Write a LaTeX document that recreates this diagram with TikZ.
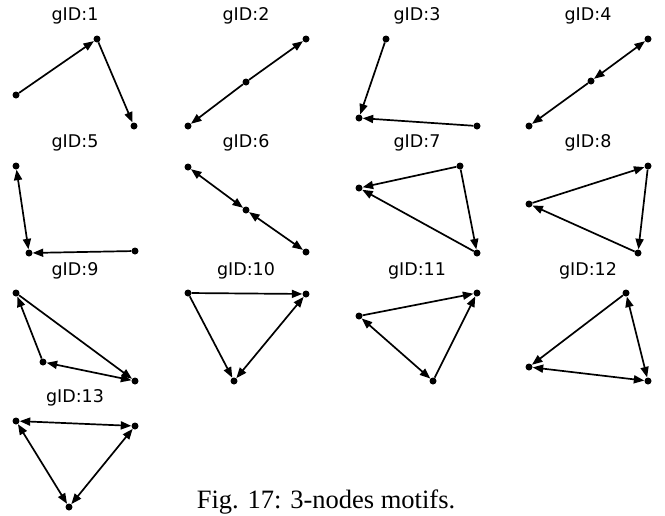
\documentclass[tikz,border=0pt]{standalone}
\usepackage{fontspec}
\setmainfont{Liberation Serif}
\newfontfamily\labfont{DejaVu Sans}
\usetikzlibrary{arrows.meta}
\tikzset{
  dot/.style={circle,fill=black,inner sep=0pt,minimum size=7pt},
  arr/.style={line width=1.7pt,-{Triangle[length=10.5pt,width=8pt]}},
  darr/.style={line width=1.7pt,{Triangle[length=10.5pt,width=8pt]}-{Triangle[length=10.5pt,width=8pt]}},
  title/.style={anchor=base,inner sep=0pt,font=\labfont\fontsize{17.5}{20}\selectfont},
  caption/.style={anchor=base,inner sep=0pt,font=\fontsize{26.5}{30}\selectfont}
}
\begin{document}
\begin{tikzpicture}[x=1pt,y=-1pt]
\useasboundingbox (0,0) rectangle (665,515);
% titles
\node[title] (t1) at (75,20) {gID:1};
\node[title] (t2) at (246,20) {gID:2};
\node[title] (t3) at (417,20) {gID:3};
\node[title] (t4) at (588,20) {gID:4};
\node[title] (t5) at (75,147) {gID:5};
\node[title] (t6) at (246,147) {gID:6};
\node[title] (t7) at (417,147) {gID:7};
\node[title] (t8) at (588,147) {gID:8};
\node[title] (t9) at (75,275) {gID:9};
\node[title] (t10) at (246,275) {gID:10};
\node[title] (t11) at (417,275) {gID:11};
\node[title] (t12) at (588,275) {gID:12};
\node[title] (t13) at (75,402) {gID:13};
% G1
\node[dot] (g1a) at (16,95) {};
\node[dot] (g1b) at (97,39) {};
\node[dot] (g1c) at (134,126) {};
\draw[arr] (g1a) -- (g1b);
\draw[arr] (g1b) -- (g1c);
% G2
\node[dot] (g2a) at (188,126) {};
\node[dot] (g2b) at (246,82) {};
\node[dot] (g2c) at (306,39) {};
\draw[arr] (g2b) -- (g2c);
\draw[arr] (g2b) -- (g2a);
% G3
\node[dot] (g3a) at (386,39) {};
\node[dot] (g3b) at (359,118) {};
\node[dot] (g3c) at (477,126) {};
\draw[arr] (g3a) -- (g3b);
\draw[arr] (g3c) -- (g3b);
% G4
\node[dot] (g4a) at (648,39) {};
\node[dot] (g4b) at (591,81) {};
\node[dot] (g4c) at (529,126) {};
\draw[darr] (g4a) -- (g4b);
\draw[arr] (g4b) -- (g4c);
% G5
\node[dot] (g5a) at (16,166) {};
\node[dot] (g5b) at (29,253) {};
\node[dot] (g5c) at (135,251) {};
\draw[darr] (g5a) -- (g5b);
\draw[arr] (g5c) -- (g5b);
% G6
\node[dot] (g6a) at (188,167) {};
\node[dot] (g6b) at (246,210) {};
\node[dot] (g6c) at (306,252) {};
\draw[darr] (g6a) -- (g6b);
\draw[darr] (g6b) -- (g6c);
% G7
\node[dot] (g7a) at (460,166) {};
\node[dot] (g7b) at (359,188) {};
\node[dot] (g7c) at (477,253) {};
\draw[arr] (g7a) -- (g7b);
\draw[arr] (g7c) -- (g7b);
\draw[arr] (g7a) -- (g7c);
% G8
\node[dot] (g8a) at (648,166) {};
\node[dot] (g8b) at (529,204) {};
\node[dot] (g8c) at (638,253) {};
\draw[arr] (g8b) -- (g8a);
\draw[arr] (g8a) -- (g8c);
\draw[arr] (g8c) -- (g8b);
% G9
\node[dot] (g9a) at (16,293) {};
\node[dot] (g9b) at (43,362) {};
\node[dot] (g9c) at (135,381) {};
\draw[arr] (g9b) -- (g9a);
\draw[arr] (g9a) -- (g9c);
\draw[darr] (g9b) -- (g9c);
% G10
\node[dot] (g10a) at (188,293) {};
\node[dot] (g10b) at (306,294) {};
\node[dot] (g10c) at (234,381) {};
\draw[arr] (g10a) -- (g10b);
\draw[arr] (g10a) -- (g10c);
\draw[darr] (g10c) -- (g10b);
% G11
\node[dot] (g11a) at (477,293) {};
\node[dot] (g11b) at (359,316) {};
\node[dot] (g11c) at (433,381) {};
\draw[arr] (g11b) -- (g11a);
\draw[arr] (g11c) -- (g11a);
\draw[darr] (g11b) -- (g11c);
% G12
\node[dot] (g12a) at (626,293) {};
\node[dot] (g12b) at (529,367) {};
\node[dot] (g12c) at (648,381) {};
\draw[arr] (g12a) -- (g12b);
\draw[darr] (g12a) -- (g12c);
\draw[darr] (g12b) -- (g12c);
% G13
\node[dot] (g13a) at (16,421) {};
\node[dot] (g13b) at (135,426) {};
\node[dot] (g13c) at (69,507) {};
\draw[darr] (g13a) -- (g13b);
\draw[darr] (g13a) -- (g13c);
\draw[darr] (g13b) -- (g13c);
% caption
\node[caption] (cap) at (326,508.5) {Fig. 17: 3-nodes motifs.};
\end{tikzpicture}
\end{document}
